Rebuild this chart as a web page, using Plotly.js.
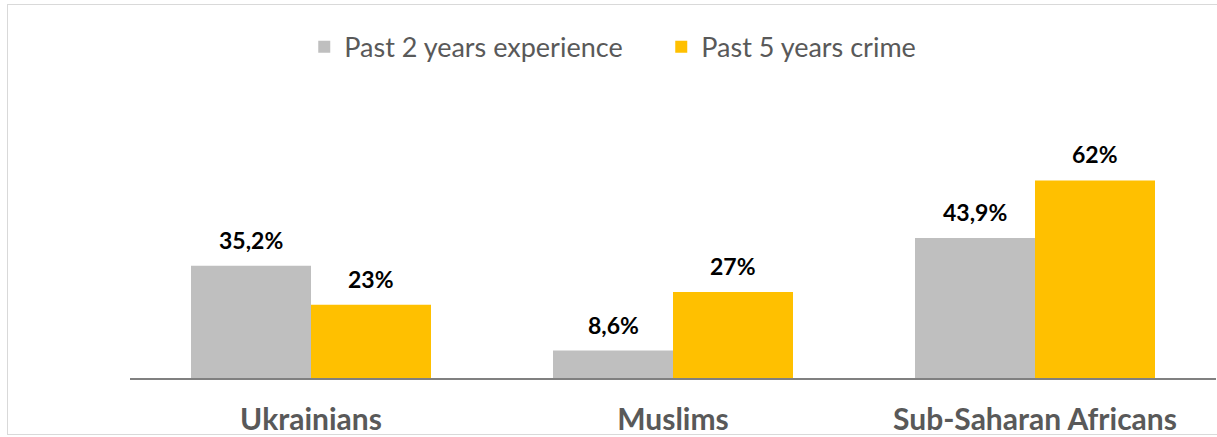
<!DOCTYPE html>
<html><head><meta charset="utf-8">
<script src="https://cdn.plot.ly/plotly-3.0.1.min.js"></script>
<style>
html,body{margin:0;padding:0;background:#fff;overflow:hidden}
#wrap{position:relative;width:1217px;height:437px}
#c{width:1217px;height:437px}
#frame{position:absolute;left:7px;top:4px;width:1220px;height:431px;border:1.5px solid #D9D9D9;pointer-events:none;box-sizing:border-box}
</style>
</head><body><div id="wrap"><div id="c"></div><div id="frame"></div></div>
<script>
const categories = ["Ukrainians", "Muslims", "Sub-Saharan Africans"];
const seriesNames = ["Past 2 years experience", "Past 5 years crime"];
const past2 = [35.2, 8.6, 43.9];
const past5 = [23, 27, 62];
const labels2 = ["35,2%", "8,6%", "43,9%"];
const labels5 = ["23%", "27%", "62%"];
const colors = ["#BFBFBF", "#FFC000"];

const FONT = "Lato, 'Open Sans', sans-serif";
const traces = [
  {type:"bar", name:seriesNames[0], x:categories, y:past2, marker:{color:colors[0]}, hoverinfo:"none"},
  {type:"bar", name:seriesNames[1], x:categories, y:past5, marker:{color:colors[1]}, hoverinfo:"none"}
];
const annotations = [];
[[past2, labels2, -60], [past5, labels5, 60]].forEach(([vals, labs, dx]) => {
  vals.forEach((v, i) => annotations.push({
    x: categories[i], y: v, xref:"x", yref:"y", text: labs[i], showarrow:false,
    xanchor:"center", yanchor:"bottom", xshift: dx, yshift: 10,
    font:{family:FONT, size:23, color:"#000000", weight:"bold"}
  }));
});
const layout = {
  width:1217, height:437,
  margin:{l:130, r:1, t:72, b:59},
  paper_bgcolor:"rgba(0,0,0,0)", plot_bgcolor:"rgba(0,0,0,0)",
  barmode:"group", bargap:0.337, bargroupgap:0,
  showlegend:true,
  legend:{orientation:"h", xref:"container", x:0.25, xanchor:"left", yref:"container", y:0.892, yanchor:"middle",
          entrywidth:312, entrywidthmode:"pixels",
          font:{family:FONT, size:27, color:"#595959"}, itemclick:false, traceorder:"normal"},
  xaxis:{showline:true, linecolor:"#808080", linewidth:2, ticks:"", ticklabelstandoff:14, automargin:false,
         tickfont:{family:FONT, size:30, color:"#595959", weight:"bold"}, showgrid:false, zeroline:false},
  yaxis:{range:[0,96], visible:false, showgrid:false, zeroline:false, automargin:false},
  annotations: annotations
};
Plotly.newPlot("c", traces, layout, {displayModeBar:false, staticPlot:true});
</script></body></html>
